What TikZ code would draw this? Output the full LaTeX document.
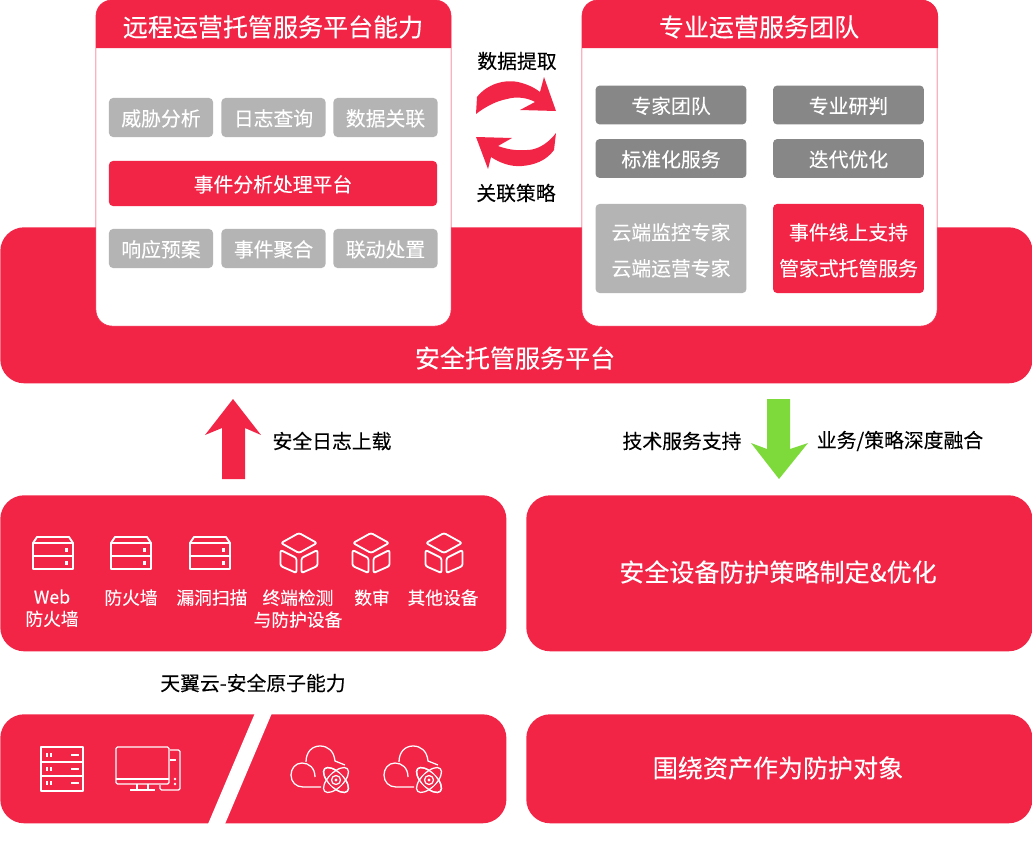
\documentclass[tikz,border=0pt]{standalone}
\usepackage{fontspec}
\setmainfont[FakeBold=0.12]{Noto Sans CJK SC}
\definecolor{brand}{HTML}{F22547}
\definecolor{softgray}{HTML}{B4B4B4}
\definecolor{darkgray}{HTML}{878787}
\definecolor{leaf}{HTML}{7ED93B}
\tikzset{
  block/.style={fill=brand,rounded corners=0.6cm,inner sep=0},
  panel/.style={draw=brand,line width=0.4pt,fill=white,rounded corners=0.4cm,inner sep=0,minimum width=8.875cm,minimum height=8.15cm},
  chip/.style={fill=softgray,text=white,rounded corners=0.1cm,inner sep=0,minimum width=2.6cm,minimum height=0.975cm,text height=0.49cm,text depth=0.07cm,font=\fontsize{14.1}{14}\selectfont},
  wide/.style={fill=darkgray,text=white,rounded corners=0.1cm,inner sep=0,minimum width=3.77cm,minimum height=0.97cm,text height=0.49cm,text depth=0.07cm,font=\fontsize{14.1}{14}\selectfont},
  tall/.style={text=white,rounded corners=0.1cm,inner sep=0,minimum width=3.77cm,minimum height=2.225cm,align=center,font=\fontsize{14.1}{25.6}\selectfont},
  title/.style={text=white,font=\fontsize{17.8}{18}\selectfont},
  caption/.style={text=black,font=\fontsize{14.1}{14}\selectfont},
  small/.style={text=white,font=\fontsize{12.6}{15.6}\selectfont,align=center},
  icon/.style={draw=white,line width=1.3pt,line join=round},
  thin icon/.style={draw=white,line width=0.9pt,line join=round}
}
\begin{document}
\begin{tikzpicture}[x=0.025cm,y=-0.025cm]
\newcommand\rackicon[1]{
\begin{scope}[xshift=#1*0.025cm]
\draw[icon] (0,569) -- (0,543) -- (4,537) -- (36,537) -- (40,543) -- (40,569) -- cycle;
\draw[icon] (0,543) -- (40,543);
\draw[icon] (0,556) -- (40,556);
\fill[white] (31.5,548) rectangle (35,552);
\fill[white] (31.5,560.5) rectangle (35,564.5);
\end{scope}
}
\newcommand\cubeicon[1]{
\begin{scope}[xshift=#1*0.025cm]
\draw[icon,rounded corners=1.5pt] (-18,543) -- (0,533) -- (18,543) -- (0,553) -- cycle;
\draw[icon,rounded corners=1.5pt] (-18.5,550) -- (-18.5,566) -- (-2.5,573) -- (-2.5,558) -- cycle;
\draw[icon,rounded corners=1.5pt] (18.5,550) -- (18.5,566) -- (2.5,573) -- (2.5,558) -- cycle;
\end{scope}
}
\newcommand\cloudicon[1]{
\begin{scope}[xshift=#1*0.025cm]
\draw[thin icon] (315,777) .. controls (315,768) and (309,763) .. (302,763) .. controls (295,763) and (291,769) .. (291,775) .. controls (291,782) and (296,787) .. (303,787) -- (321,787);
\draw[thin icon] (306,762) .. controls (306,752) and (312,746) .. (320,746) .. controls (328,746) and (334,751) .. (335,761) -- (345,765);
\draw[thin icon,fill=brand] (336,780) ellipse [x radius=16,y radius=7.5,rotate=-45];
\draw[thin icon,fill=brand] (336,780) ellipse [x radius=16,y radius=7.5,rotate=45];
\draw[thin icon,fill=brand,fill opacity=0] (336,780) ellipse [x radius=16,y radius=7.5,rotate=-45];
\fill[brand] (336,780) circle (7);
\draw[thin icon] (336,780) circle (4.5);
\fill[white] (336,780) circle (1.6);
\end{scope}
}
\useasboundingbox (0,0) rectangle (1032,861);
\node[block,anchor=north west,minimum width=25.8cm,minimum height=3.9cm] (band) at (0,227) {};
\node[title] (bandtext) at (515,358) {安全托管服务平台};

\node[panel] (leftpanel) at (273.5,163) {};
\node[panel] (rightpanel) at (759.5,163) {};
\fill[brand] (96,48) [rounded corners=0.4cm] -- (96,0) -- (451,0) [sharp corners] -- (451,48) -- cycle;
\fill[brand] (582,48) [rounded corners=0.4cm] -- (582,0) -- (938,0) [sharp corners] -- (938,48) -- cycle;
\node[title] (lefttitle) at (273,27) {远程运营托管服务平台能力};
\node[title] (righttitle) at (759,27) {专业运营服务团队};

\node[chip] (threat) at (161,117.5) {威胁分析};
\node[chip] (query) at (273.5,117.5) {日志查询};
\node[chip] (relate) at (385.5,117.5) {数据关联};
\node[chip,fill=brand,minimum width=8.2cm,minimum height=1.125cm] (platform) at (273,183.5) {事件分析处理平台};
\node[chip] (respond) at (161,248.5) {响应预案};
\node[chip] (merge) at (273.5,248.5) {事件聚合};
\node[chip] (linkage) at (385.5,248.5) {联动处置};

\node[wide] (experts) at (671,105) {专家团队};
\node[wide] (judge) at (848.5,105) {专业研判};
\node[wide] (standard) at (671,158.5) {标准化服务};
\node[wide] (iterate) at (848.5,158.5) {迭代优化};
\node[tall,fill=softgray] (cloudstaff) at (671,248.5) {\rule{0pt}{14.5pt}云端监控专家\\云端运营专家};
\node[tall,fill=brand] (online) at (848.5,248.5) {\rule{0pt}{14.5pt}事件线上支持\\管家式托管服务};

\node[caption] (extract) at (517,61) {数据提取};
\node[caption] (strategy) at (516,193) {关联策略};
\fill[brand] (477,97) .. controls (487,84) and (505,79) .. (518,82) .. controls (527,84) and (535,88) .. (540,92) -- (544,77) -- (556,111) -- (520,110) -- (535,102) .. controls (528,98) and (517,96) .. (507,99) .. controls (496,101) and (485,107) .. (476,114) -- cycle;
\fill[brand] (556,133) .. controls (546,146) and (535,150) .. (527,150) .. controls (516,151) and (506,149) .. (498,146) -- (512,138) -- (476,137) -- (488,169) -- (491,157) .. controls (500,163) and (511,167) .. (522,166) .. controls (534,165) and (546,161) .. (554,150) -- cycle;

\fill[brand] (222,479) -- (222,428) -- (205,435) -- (233,399) -- (261,435) -- (245,428) -- (245,479) -- cycle;
\fill[leaf] (767,399) -- (767,449) -- (751,443) -- (779,479) -- (808,443) -- (790,449) -- (790,399) -- cycle;
\node[caption] (upload) at (332,441) {安全日志上载};
\node[caption] (support) at (682,441) {技术服务支持};
\node[caption] (fusion) at (900,441) {业务/策略深度融合};

\node[block,anchor=north west,minimum width=12.65cm,minimum height=3.9cm] (devices) at (0,495) {};
\node[block,anchor=north west,minimum width=12.65cm,minimum height=3.9cm] (policy) at (526,495) {};
\node[title] (policytext) at (778,572) {安全设备防护策略制定\&优化};
\rackicon{33}
\rackicon{111}
\rackicon{190}
\cubeicon{299}
\cubeicon{371}
\cubeicon{444}
\node[small,anchor=north] (waf) at (52,584.5) {Web\\防火墙};
\node[small,anchor=north] (firewall) at (131,584.5) {防火墙};
\node[small,anchor=north] (scan) at (212,584.5) {漏洞扫描};
\node[small,anchor=north] (endpoint) at (298,584.5) {终端检测\\与防护设备};
\node[small,anchor=north] (audit) at (372,584.5) {数审};
\node[small,anchor=north] (others) at (443,584.5) {其他设备};

\node[caption] (atom) at (253,683) {天翼云-安全原子能力};

\node[block,anchor=north west,minimum width=12.65cm,minimum height=2.725cm] (assets) at (0,714) {};
\node[block,anchor=north west,minimum width=12.65cm,minimum height=2.725cm] (target) at (526,714) {};
\node[title] (targettext) at (778,768) {围绕资产作为防护对象};
\fill[white] (255,713) -- (272,713) -- (225,824) -- (208,824) -- cycle;

\draw[thin icon] (41,747) rectangle (83,791);
\draw[thin icon] (41,762) -- (83,762);
\draw[thin icon] (41,776) -- (83,776);
\foreach \y in {755,769,783}{
\draw[thin icon] (71,\y) -- (79,\y);
\draw[thin icon] (47,\y-2) -- (47,\y+2);
\draw[thin icon] (51,\y-2) -- (51,\y+2);
}
\draw[thin icon,rounded corners=1pt] (116,747) rectangle (169,784);
\draw[thin icon] (116,779) -- (169,779);
\draw[thin icon] (137,784) -- (137,790);
\draw[thin icon] (148,784) -- (148,790);
\draw[thin icon] (130,790) -- (155,790);
\draw[thin icon,rounded corners=1pt] (170,750) -- (180,750) -- (180,790) -- (160,790) -- (160,785);
\draw[thin icon] (170,760) -- (176,760);
\fill[white] (175,779) circle (1.3);
\fill[white] (175,784) circle (1.3);
\cloudicon{0}
\cloudicon{93}
\end{tikzpicture}
\end{document}
